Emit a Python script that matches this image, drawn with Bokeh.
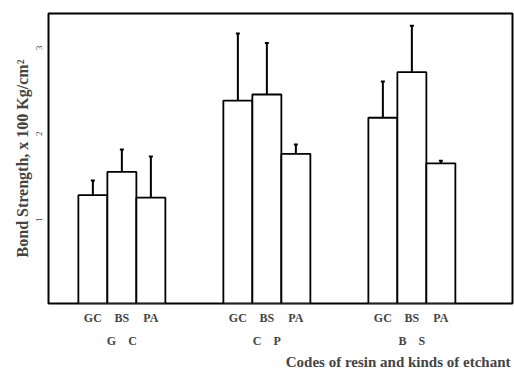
import math
from bokeh.plotting import figure
from bokeh.models import (Range1d, LinearAxis, FixedTicker, Whisker, TeeHead,
                          ColumnDataSource, Title)
from bokeh.embed import file_html
from bokeh.resources import INLINE

# ---- data ----
groups = ["G\u2002\u2002C", "C\u2002\u2002P", "B\u2002\u2002S"]
codes = ["GC", "BS", "PA"]
mean_GC = [1.26, 1.53, 1.23]
mean_CP = [2.36, 2.43, 1.74]
mean_BS = [2.16, 2.69, 1.63]
err_GC = [0.17, 0.26, 0.48]
err_CP = [0.78, 0.60, 0.11]
err_BS = [0.42, 0.54, 0.03]
y_ticks = [1, 2, 3]
y_title = "Bond Strength, x 100 Kg/cm\u00b2"
x_title = "Codes of resin and kinds of etchant"

means = [mean_GC, mean_CP, mean_BS]
errs = [err_GC, err_CP, err_BS]

GROUP_STEP = 5
xs, tops, uppers, tick_pos, tick_lab = [], [], [], [], []
for g in range(len(groups)):
    for i in range(len(codes)):
        x = g * GROUP_STEP + i
        xs.append(x)
        tops.append(means[g][i])
        uppers.append(means[g][i] + errs[g][i])
        tick_pos.append(x)
        tick_lab.append(codes[i])
group_pos = [g * GROUP_STEP + 1 for g in range(len(groups))]

src = ColumnDataSource(dict(x=xs, top=tops, upper=uppers))

FONT = "Liberation Serif"

p = figure(width=514, height=373, output_backend="svg", toolbar_location=None,
           x_range=Range1d(-1.53, 14.47), y_range=Range1d(0, 3.372),
           x_axis_type=None, y_axis_type=None,
           min_border_left=48, min_border_right=2, min_border_top=13,
           min_border_bottom=70)
p.background_fill_color = "white"
p.border_fill_color = "white"
p.outline_line_color = "black"
p.outline_line_width = 2
p.xgrid.visible = False
p.ygrid.visible = False

p.vbar(x="x", top="top", bottom=0, width=1, source=src,
       fill_color="white", line_color="black", line_width=1.8)

w = Whisker(base="x", lower="top", upper="upper", source=src,
            line_color="black", line_width=2,
            upper_head=TeeHead(size=4, line_width=2, line_color="black"),
            lower_head=None)
p.add_layout(w)

# y axis
ya = LinearAxis(ticker=FixedTicker(ticks=y_ticks), axis_label=y_title)
ya.axis_line_color = None
ya.major_tick_line_color = None
ya.minor_tick_line_color = None
ya.major_label_orientation = math.pi / 2
ya.major_label_text_font = FONT
ya.major_label_text_font_size = "9px"
ya.major_label_standoff = 3
ya.axis_label_text_font = FONT
ya.axis_label_text_font_style = "bold"
ya.axis_label_text_font_size = "16px"
ya.axis_label_standoff = 0
p.add_layout(ya, "left")

# x axis (codes)
xa = LinearAxis(ticker=FixedTicker(ticks=tick_pos),
                major_label_overrides={k: v for k, v in zip(tick_pos, tick_lab)})
xa.axis_line_color = None
xa.major_tick_line_color = None
xa.minor_tick_line_color = None
xa.major_label_text_font = FONT
xa.major_label_text_font_style = "bold"
xa.major_label_text_font_size = "12px"
xa.major_label_standoff = 1
p.add_layout(xa, "below")

# x axis (groups)
xg = LinearAxis(ticker=FixedTicker(ticks=group_pos),
                major_label_overrides={k: v for k, v in zip(group_pos, groups)})
xg.axis_line_color = None
xg.major_tick_line_color = None
xg.minor_tick_line_color = None
xg.major_label_text_font = FONT
xg.major_label_text_font_style = "bold"
xg.major_label_text_font_size = "12px"
xg.major_label_standoff = 0
p.add_layout(xg, "below")

t = Title(text=x_title, align="right", text_font=FONT, text_font_style="bold",
          text_font_size="15px", standoff=2, offset=2)
p.add_layout(t, "below")

open("out.html", "w").write(file_html(p, INLINE))
